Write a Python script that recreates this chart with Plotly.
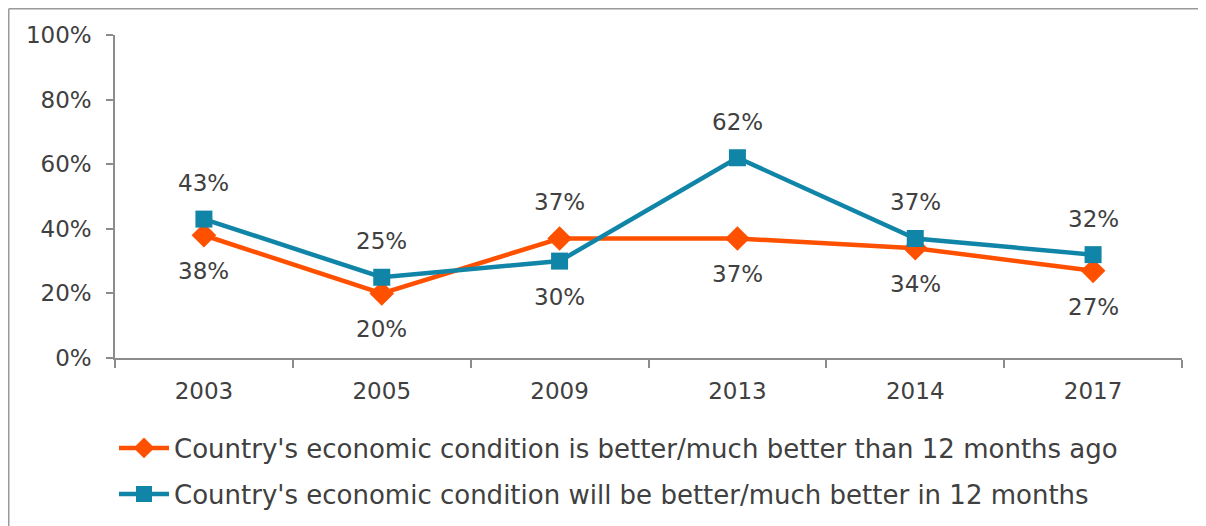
import plotly.graph_objects as go

years = ["2003", "2005", "2009", "2013", "2014", "2017"]
better_than_ago = [0.38, 0.20, 0.37, 0.37, 0.34, 0.27]
better_in_12 = [0.43, 0.25, 0.30, 0.62, 0.37, 0.32]
name_ago = "Country's economic condition is better/much better than 12 months ago"
name_in12 = "Country's economic condition will be better/much better in 12 months"

ORANGE = "#FF5000"
BLUE = "#1185A8"
TEXT = "#404040"
AXIS = "#8C8C8C"
FONT = "Century Gothic, DejaVu Sans, sans-serif"

# page body margin offset (browser default)
OFF = 8
W, H = 1206 - OFF, 526 - OFF
L, R, T, B = 115 - OFF, 24, 35 - OFF, 168
pw, ph = W - L - R, H - T - B

def px_x(x):
    return (x - OFF - L) / pw

def px_y(y):
    return (H - B - (y - OFF)) / ph

fig = go.Figure()
fig.add_trace(go.Scatter(
    x=years, y=better_than_ago, name=name_ago, mode="lines+markers",
    line=dict(color=ORANGE, width=4.5),
    marker=dict(symbol="diamond", size=19, color=ORANGE),
    legend="legend", cliponaxis=False,
))
fig.add_trace(go.Scatter(
    x=years, y=better_in_12, name=name_in12, mode="lines+markers",
    line=dict(color=BLUE, width=4.5),
    marker=dict(symbol="square", size=17, color=BLUE),
    legend="legend2", cliponaxis=False,
))

annotations = []
for i, (a, b) in enumerate(zip(better_than_ago, better_in_12)):
    a_up = a > b
    annotations.append(dict(x=i, y=a, xref="x", yref="y", text=f"{round(a*100)}%",
                            showarrow=False, yshift=36 if a_up else -36,
                            font=dict(family=FONT, size=23, color=TEXT)))
    annotations.append(dict(x=i, y=b, xref="x", yref="y", text=f"{round(b*100)}%",
                            showarrow=False, yshift=-36 if a_up else 36,
                            font=dict(family=FONT, size=23, color=TEXT)))

shapes = [
    dict(type="line", xref="paper", yref="paper", x0=px_x(8.75), x1=px_x(1300),
         y0=px_y(8.75), y1=px_y(8.75), line=dict(color="#9A9A9A", width=1.5)),
    dict(type="line", xref="paper", yref="paper", x0=px_x(8.75), x1=px_x(8.75),
         y0=px_y(8.75), y1=px_y(600), line=dict(color="#9A9A9A", width=1.5)),
]

legend_common = dict(
    font=dict(family=FONT, size=26, color=TEXT),
    bgcolor="rgba(0,0,0,0)", xanchor="left", yanchor="middle",
    itemwidth=50,
)

fig.update_layout(
    width=W, height=H,
    margin=dict(l=L, r=R, t=T, b=B, pad=0, autoexpand=False),
    paper_bgcolor="white", plot_bgcolor="white",
    font=dict(family=FONT, size=22, color=TEXT),
    annotations=annotations,
    shapes=shapes,
    showlegend=True,
    legend=dict(x=px_x(114), y=px_y(448), **legend_common),
    legend2=dict(x=px_x(114), y=px_y(494), **legend_common),
    xaxis=dict(
        type="category", showgrid=False, showline=True, linecolor=AXIS, linewidth=1.5,
        ticks="outside", tickson="boundaries", ticklen=8, tickcolor=AXIS, tickwidth=1.5,
        tickfont=dict(family=FONT, size=23, color=TEXT), zeroline=False,
        range=[-0.5, 5.5], ticklabelstandoff=12,
    ),
    yaxis=dict(
        range=[0, 1], dtick=0.2, tickformat=".0%", showgrid=False, zeroline=False,
        showline=True, linecolor=AXIS, linewidth=1.5,
        ticks="outside", ticklen=7, tickcolor=AXIS, tickwidth=1.5,
        tickfont=dict(family=FONT, size=23, color=TEXT), ticklabelstandoff=10,
    ),
)

fig.write_html("out.html")
